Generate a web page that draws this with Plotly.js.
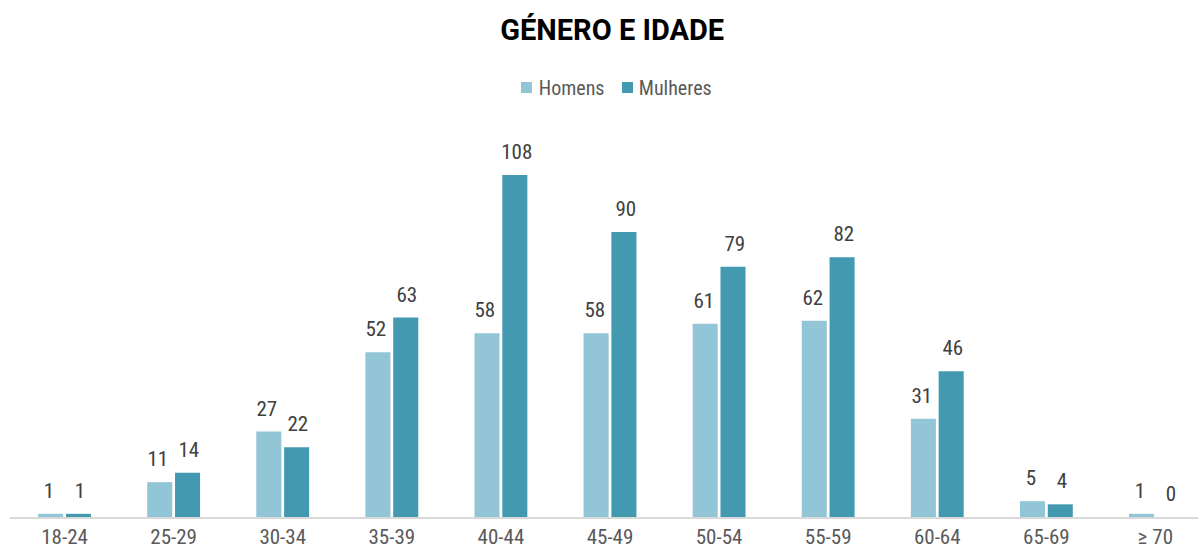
<!DOCTYPE html>
<html>
<head>
<meta charset="utf-8">
<script src="https://cdn.plot.ly/plotly-3.0.1.min.js"></script>
<style>html,body{margin:0;padding:0;background:#fff;}#chart{width:1198px;height:553px;}
#chart text{font-stretch:75% !important;}
#chart text.gtitle{font-stretch:100% !important;}</style>
</head>
<body>
<div id="chart"></div>
<script>
const categories = ["18-24","25-29","30-34","35-39","40-44","45-49","50-54","55-59","60-64","65-69","≥ 70"];
const homens = [1, 11, 27, 52, 58, 58, 61, 62, 31, 5, 1];
const mulheres = [1, 14, 22, 63, 108, 90, 79, 82, 46, 4, 0];
const seriesNames = ["Homens", "Mulheres"];
const seriesColors = ["#92C5D5", "#4299B0"];

const FONT = "Roboto, Liberation Sans, Arial, sans-serif";

const traces = [homens, mulheres].map((vals, i) => ({
  type: "bar", name: seriesNames[i], x: categories, y: vals,
  marker: {color: seriesColors[i]}
}));

// value labels above bars
const annotations = [];
[homens, mulheres].forEach((vals, i) => {
  vals.forEach((v, j) => {
    annotations.push({
      x: categories[j], y: v, xref: "x", yref: "y",
      xshift: i === 0 ? -15.5 : 15.5, yshift: 9,
      yanchor: "bottom", xanchor: "center", showarrow: false,
      text: String(v),
      font: {family: FONT, size: 21, color: "#404040"}
    });
  });
});

// legend (custom, to keep the tight symbol/text spacing)
const legendItems = [
  {sq: 521, tx: 532},
  {sq: 622, tx: 632}
];
const shapes = [];
const px2x = p => (p - 10) / 1188;
const py2y = p => (517 - p) / 380;
legendItems.forEach((it, i) => {
  shapes.push({type: "rect", xref: "paper", yref: "paper",
    x0: px2x(it.sq), x1: px2x(it.sq + 11), y0: py2y(93), y1: py2y(82),
    fillcolor: seriesColors[i], line: {width: 0}});
  annotations.push({xref: "paper", yref: "paper", x: px2x(it.tx), y: py2y(87.5),
    xanchor: "left", yanchor: "middle", showarrow: false, text: seriesNames[i],
    font: {family: FONT, size: 20, color: "#595959"}});
});

const layout = {
  width: 1198, height: 553,
  margin: {l: 10, r: 0, t: 137, b: 36},
  paper_bgcolor: "#fff", plot_bgcolor: "#fff",
  font: {family: FONT, color: "#595959"},
  title: {text: "<b>GÉNERO E IDADE</b>", x: 0.511, xanchor: "center", y: 0.946, yanchor: "middle",
          font: {family: FONT, size: 29, color: "#000"}},
  showlegend: false,
  barmode: "group",
  bargap: 0.49,
  bargroupgap: 0.1,
  xaxis: {
    type: "category",
    range: [-0.5, 10.39],
    showline: true, linecolor: "#D9D9D9", linewidth: 2,
    ticks: "", showgrid: false, zeroline: false,
    tickfont: {family: FONT, size: 21, color: "#595959"}
  },
  yaxis: {
    range: [0, 120], visible: false, showgrid: false, zeroline: false
  },
  annotations: annotations,
  shapes: shapes
};

Plotly.newPlot("chart", traces, layout, {displayModeBar: false, staticPlot: true});
</script>
</body>
</html>
